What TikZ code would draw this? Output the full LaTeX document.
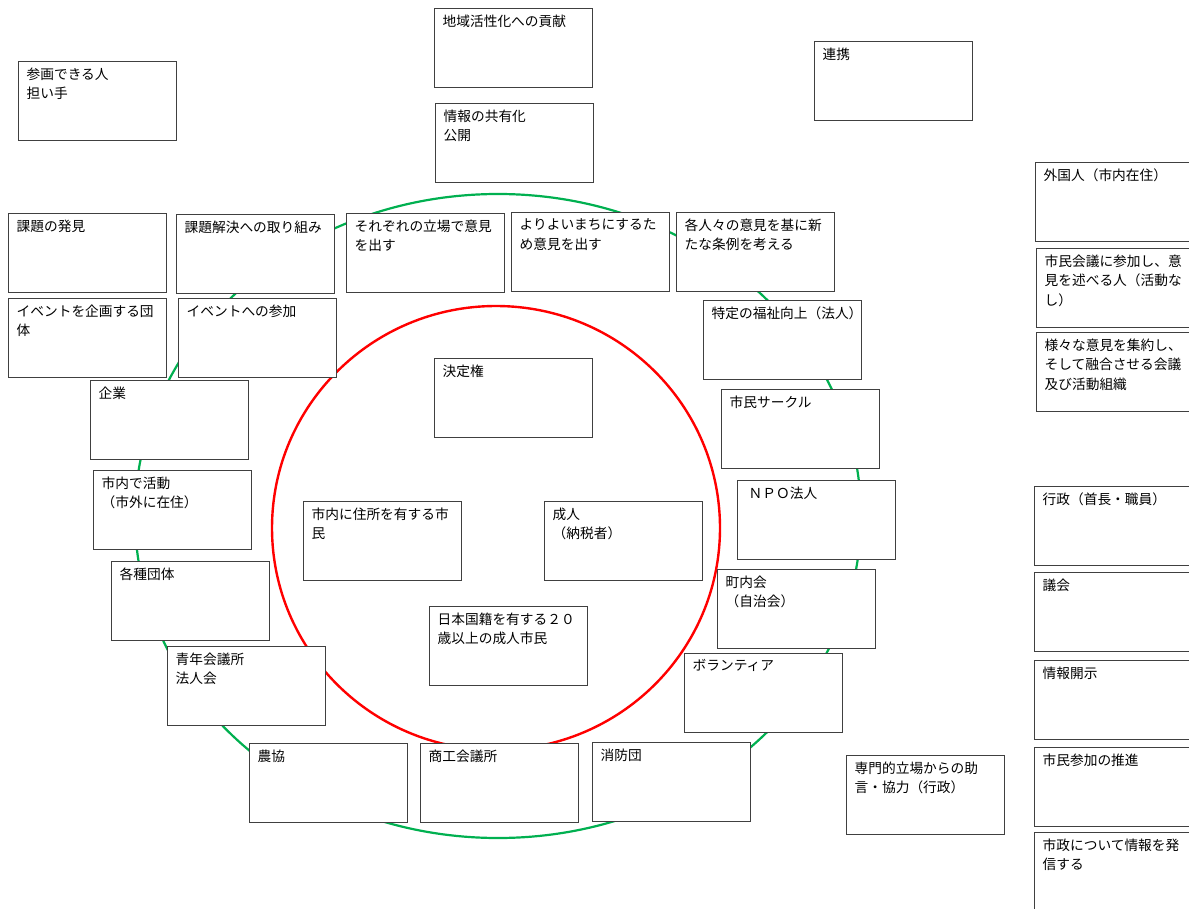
\documentclass[tikz,border=0pt]{standalone}
\usepackage{fontspec}
\setmainfont{Noto Sans CJK JP}
\definecolor{ringgreen}{HTML}{00B050}
\definecolor{ringred}{HTML}{FF0000}
\tikzset{
  box/.style={draw=black!75, line width=0.9pt, fill=white, anchor=north west,
    minimum width=158pt, minimum height=79pt, inner sep=0pt},
  txt/.style={anchor=north west, inner sep=0pt, align=left,
    font=\fontsize{13.7pt}{19.5pt}\selectfont},
}
% a box with its caption set at the top left corner
\newcommand{\panel}[4]{%
  \node[box] (#1) at (#2,#3) {};
  \node[txt] (#1-t) at ([xshift=8.5pt,yshift=-6.5pt]#1.north west) {#4};
}
\begin{document}
\begin{tikzpicture}[x=1pt,y=-1pt]
\useasboundingbox (0,0) rectangle (1189,909);
\clip (0,0) rectangle (1189,909);
\fill[white] (0,0) rectangle (1189,909);

% outer ring and inner ring
\draw[ringgreen, line width=2.2pt] (498,516) ellipse [x radius=363, y radius=322];
\draw[ringred, line width=2.4pt] (496,528) ellipse [x radius=224, y radius=222];

% top row and corners
\panel{kouken}{434}{8}{地域活性化への貢献}
\panel{kyouyuu}{435}{103}{情報の共有化\\公開}
\panel{sankaku}{18}{61}{参画できる人\\担い手}
\panel{renkei}{814}{41}{連携}

% right column
\panel{gaikoku}{1035}{162}{外国人（市内在住）}
\panel{shimin}{1036}{248}{市民会議に参加し、意\\見を述べる人（活動な\\し）}
\panel{shuuyaku}{1036}{332}{様々な意見を集約し、\\そして融合させる会議\\及び活動組織}
\panel{gyousei}{1034}{486}{行政（首長・職員）}
\panel{gikai}{1034}{572}{議会}
\panel{kaiji}{1034}{660}{情報開示}
\panel{suishin}{1034}{747}{市民参加の推進}
\panel{hasshin}{1034}{832}{市政について情報を発\\信する}

% row along the top of the ring
\panel{hakken}{8}{213}{課題の発見}
\panel{kaiketsu}{176}{214}{課題解決への取り組み}
\panel{tachiba}{346}{213}{それぞれの立場で意見\\を出す}
\panel{yoriyoi}{511}{212}{よりよいまちにするた\\め意見を出す}
\panel{jourei}{676}{212}{各人々の意見を基に新\\たな条例を考える}

% left side of the ring
\panel{kikaku}{8}{298}{イベントを企画する団\\体}
\panel{event}{178}{298}{イベントへの参加}
\panel{kigyou}{90}{380}{企業}
\panel{shigai}{93}{470}{市内で活動\\（市外に在住）}
\panel{dantai}{111}{561}{各種団体}
\panel{seinen}{167}{646}{青年会議所\\法人会}

% bottom of the ring
\panel{noukyou}{249}{743}{農協}
\panel{shoukou}{420}{743}{商工会議所}
\panel{shoubou}{592}{742}{消防団}

% right side of the ring
\panel{fukushi}{703}{300}{特定の福祉向上（法人）}
\panel{circle}{721}{389}{市民サークル}
\panel{npo}{737}{480}{\hspace{3pt}ＮＰＯ法人}
\panel{chounai}{717}{569}{町内会\\（自治会）}
\panel{volunteer}{684}{653}{ボランティア}
\panel{senmon}{846}{755}{専門的立場からの助\\言・協力（行政）}

% inside the red ring
\panel{kettei}{434}{358}{決定権}
\panel{juusho}{303}{501}{市内に住所を有する市\\民}
\panel{seijin}{544}{501}{成人\\（納税者）}
\panel{kokuseki}{429}{606}{日本国籍を有する２０\\歳以上の成人市民}
\end{tikzpicture}
\end{document}
